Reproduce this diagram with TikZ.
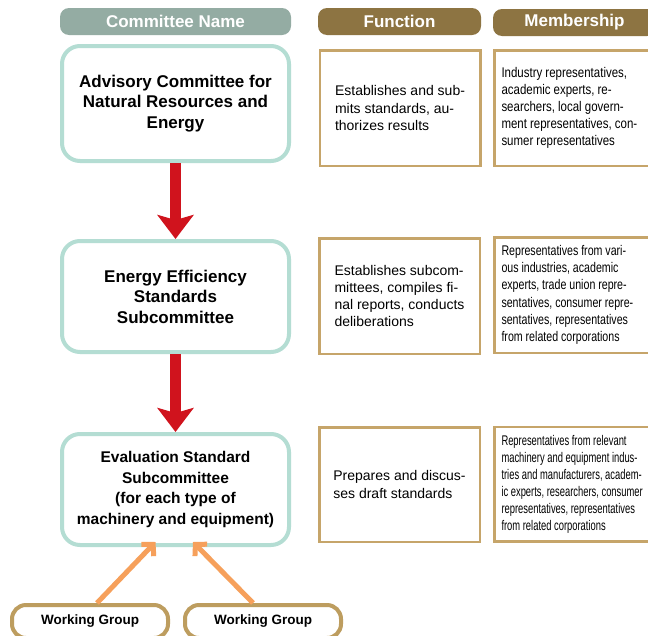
\documentclass[tikz,border=0pt]{standalone}
\usepackage{fontspec}
\setmainfont{Liberation Sans}
\newfontfamily\narrowa{Liberation Sans}[FakeStretch=0.82]
\newfontfamily\narrowb{Liberation Sans}[FakeStretch=0.76]
\newfontfamily\narrowc{Liberation Sans}[FakeStretch=0.67]
\usepackage{tikz}
\usetikzlibrary{arrows.meta}

\definecolor{headgray}{HTML}{94ACA3}
\definecolor{headbrown}{HTML}{8D7442}
\definecolor{mint}{HTML}{B4DDD3}
\definecolor{boxtan}{HTML}{C6A56A}
\definecolor{grouptan}{HTML}{BD9D5F}
\definecolor{arrowred}{HTML}{D0131D}
\definecolor{arroworange}{HTML}{F6A05B}

\begin{document}
\begin{tikzpicture}[x=1pt, y=-1pt,
	headbox/.style={rounded corners=9pt, minimum height=27pt, inner sep=0pt,
		text=white, font=\fontsize{17}{20}\selectfont\bfseries},
	combox/.style={draw=mint, line width=4pt, rounded corners=18pt, fill=white,
		minimum width=227pt, align=center, inner sep=0pt,
		font=\fontsize{17}{20.5}\selectfont\bfseries},
	funcbox/.style={draw=boxtan, line width=2.5pt, minimum width=160.5pt,
		align=left, inner sep=0pt, font=\fontsize{14}{17.3}\selectfont},
	memberbox/.style={draw=boxtan, line width=2.5pt, text width=160pt,
		inner xsep=7pt, inner ysep=0pt, align=left},
	groupbox/.style={draw=grouptan, line width=4pt, rounded corners=14pt,
		minimum width=156pt, minimum height=33pt,
		font=\fontsize{13.5}{15}\selectfont\bfseries},
	redarrow/.style={arrowred, line width=11pt,
		-{Stealth[length=24pt, width=36pt, inset=5pt]}},
	orangearrow/.style={arroworange, line width=5pt,
		-{Straight Barb[length=8pt, width=17pt]}}]
	\useasboundingbox [fill=white] (0,0) rectangle (648,635);

	\node [headbox, fill=headgray, minimum width=231pt] (namehead) at (175.5,21.5) {Committee Name};
	\node [headbox, fill=headbrown, minimum width=163pt] (funchead) at (399.5,21.5) {Function};
	\node [headbox, fill=headbrown, minimum width=163pt] (memberhead) at (574.5,22.5) {Membership};

	\node [combox, minimum height=115pt] (advisory) at (175.5,103.5)
		{Advisory Committee for\\Natural Resources and\\Energy};
	\node [combox, minimum height=111pt] (efficiency) at (175.5,296.5)
		{Energy Efficiency\\Standards\\Subcommittee};
	\node [combox, minimum height=111pt, font=\fontsize{15.5}{20.5}\selectfont\bfseries] (evaluation) at (175.5,489.5)
		{Evaluation Standard\\Subcommittee\\(for each type of\\machinery and equipment)};

	\node [funcbox, minimum height=115.5pt] (func1) at (400,108)
		{Establishes and sub-\\mits standards, au-\\thorizes results};
	\node [funcbox, minimum height=115.5pt] (func2) at (399.5,296)
		{Establishes subcom-\\mittees, compiles fi-\\nal reports, conducts\\deliberations};
	\node [funcbox, minimum height=114.5pt] (func3) at (399.5,484.5)
		{Prepares and discus-\\ses draft standards};

	\node [memberbox, minimum height=115.5pt, font=\fontsize{14}{17}\narrowa] (member1) at (581.5,108)
		{\spaceskip 3.1pt\relax Industry representatives,\\academic experts, re-\\searchers, local govern-\\ment representatives, con-\\sumer representatives};
	\node [memberbox, minimum height=115.5pt, font=\fontsize{14}{17.3}\narrowb] (member2) at (581.5,295)
		{\spaceskip 2.9pt\relax Representatives from vari-\\ous industries, academic\\experts, trade union repre-\\sentatives, consumer repre-\\sentatives, representatives\\from related corporations};
	\node [memberbox, minimum height=114.5pt, font=\fontsize{14}{17}\narrowc] (member3) at (581.5,484)
		{\spaceskip 2.6pt\relax Representatives from relevant\\machinery and equipment indus-\\tries and manufacturers, academ-\\ic experts, researchers, consumer\\representatives, representatives\\from related corporations};

	\node [groupbox] (group1) at (90,621.5) {Working Group};
	\node [groupbox] (group2) at (263,621.5) {Working Group};

	\draw [redarrow] (advisory) -- (efficiency);
	\draw [redarrow] (efficiency) -- (evaluation);

	\draw [orangearrow] ([xshift=7pt]group1.north) -- ([xshift=-20pt, yshift=5pt]evaluation.south);
	\draw [orangearrow] ([xshift=-10pt]group2.north) -- ([xshift=17.5pt, yshift=5pt]evaluation.south);
\end{tikzpicture}
\end{document}
